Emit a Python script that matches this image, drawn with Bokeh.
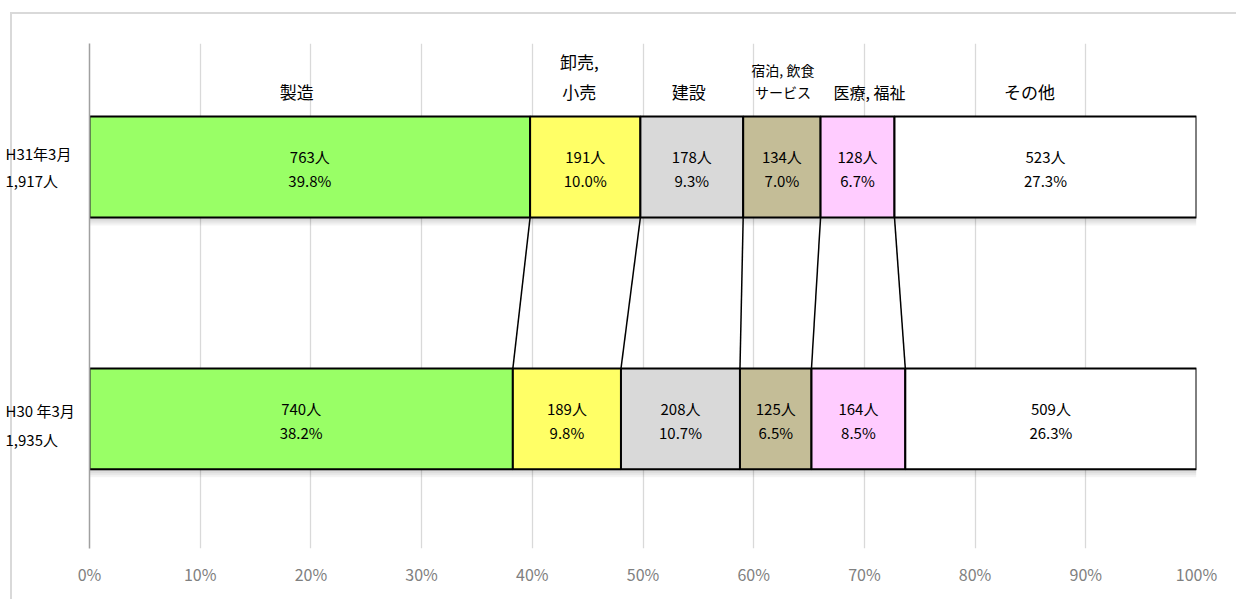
from bokeh.plotting import figure
from bokeh.layouts import row
from bokeh.models import Range1d, FixedTicker, NumeralTickFormatter, ColumnDataSource
from bokeh.core.properties import value
from bokeh.embed import file_html
from bokeh.resources import INLINE

# ---------------- data ----------------
industries = ["製造", "卸売,\n小売", "建設", "宿泊, 飲食\nサービス", "医療, 福祉", "その他"]
periods = ["H30 年3月", "H31年3月"]
period_totals = ["1,935人", "1,917人"]
counts_h30 = [740, 189, 208, 125, 164, 509]
counts_h31 = [763, 191, 178, 134, 128, 523]
tick_values = [0.0, 0.1, 0.2, 0.3, 0.4, 0.5, 0.6, 0.7, 0.8, 0.9, 1.0]

# ---------------- styles ----------------
colors = ["#99ff66", "#ffff66", "#d9d9d9", "#c4bd97", "#ffccff", "#ffffff"]
header_size = [17, 17, 17, 14, 16, 17]
header_dx = [-13, -6, -3, 1, 12, -16]
header_gap = [0, 30, 0, 22, 0, 0]
row_label_off = [(-8, 21), (-13, 14)]
row_pos = [0.5, 1.5]
bar_h = 0.4
FONT = "Noto Sans CJK JP"
BORDER = "#d9d9d9"

LEFT_W = 77
MB_L = 89 - LEFT_W
W, H = 1236 - LEFT_W, 599
MB_R, MB_T, MB_B = 40, 43, 51
y_lo, y_hi = -0.014, 1.99
ppu = (H - MB_T - MB_B) / (y_hi - y_lo)  # pixels per y unit

p = figure(width=W, height=H, output_backend="svg", toolbar_location=None,
           x_range=Range1d(0, 1), y_range=Range1d(y_lo, y_hi),
           min_border_left=MB_L, min_border_right=MB_R,
           min_border_top=MB_T, min_border_bottom=MB_B,
           background_fill_color="white", border_fill_color=None)
p.outline_line_color = None
p.styles = {
    "background-color": "white",
    "background-image": f"linear-gradient({BORDER}, {BORDER})",
    "background-size": "100% 2px",
    "background-position": "0px 12px",
    "background-repeat": "no-repeat",
}

# left panel holding the period labels
pl = figure(width=LEFT_W, height=H, output_backend="svg", toolbar_location=None,
            x_range=Range1d(0, LEFT_W), y_range=p.y_range,
            min_border_left=0, min_border_right=0,
            min_border_top=MB_T, min_border_bottom=MB_B,
            background_fill_color=None, border_fill_color=None)
pl.outline_line_color = None
pl.axis.visible = False
pl.grid.visible = False
pl.styles = {
    "background-color": "white",
    "background-image": f"linear-gradient({BORDER}, {BORDER}), linear-gradient({BORDER}, {BORDER})",
    "background-size": "2px 100%, 100% 2px",
    "background-position": "10px 12px, 10px 12px",
    "background-repeat": "no-repeat",
}

# grid
p.xgrid.ticker = FixedTicker(ticks=tick_values)
p.xgrid.grid_line_color = "#d9d9d9"
p.xgrid.grid_line_width = 1.3
p.ygrid.grid_line_color = None

# axes
p.xaxis.ticker = FixedTicker(ticks=tick_values)
p.xaxis.formatter = NumeralTickFormatter(format="0%")
p.xaxis.axis_line_color = None
p.xaxis.major_tick_line_color = None
p.xaxis.minor_tick_line_color = None
p.xaxis.major_label_standoff = 7
p.xaxis.major_label_text_font = FONT
p.xaxis.major_label_text_font_size = "16px"
p.xaxis.major_label_text_color = "#808080"

p.yaxis.ticker = FixedTicker(ticks=[])
p.yaxis.axis_line_color = "#a0a0a0"
p.yaxis.axis_line_width = 1.5
p.yaxis.major_tick_line_color = None
p.yaxis.minor_tick_line_color = None
p.yaxis.major_label_text_font_size = "0px"

rows = [counts_h30, counts_h31]
lefts_all, rights_all = [], []
for r, counts in enumerate(rows):
    total = sum(counts)
    shares = [c / total for c in counts]
    lefts, rights = [], []
    acc = 0.0
    for s in shares:
        lefts.append(acc)
        acc += s
        rights.append(acc)
    lefts_all.append(lefts)
    rights_all.append(rights)
    y = row_pos[r]
    # soft shadow under the bar
    for k in range(1, 5):
        p.quad(left=[0], right=[rights[-1]], top=[y - bar_h / 2],
               bottom=[y - bar_h / 2 - (2 * k) / ppu],
               fill_color="black", fill_alpha=0.045, line_color=None)
    src = ColumnDataSource(dict(
        left=lefts, right=rights, color=colors,
        center=[(a + b) / 2 for a, b in zip(lefts, rights)],
        y=[y] * len(counts),
        cnt=[f"{c}人" for c in counts],
        pct=[f"{s * 100:.1f}%" for s in shares],
    ))
    p.hbar(y="y", left="left", right="right", height=bar_h, fill_color="color",
           line_color="black", line_width=2, source=src)
    p.text(x="center", y="y", text="cnt", source=src, text_align="center",
           text_baseline="middle", y_offset=-10, text_font=value(FONT),
           text_font_size="15px", text_color="black")
    p.text(x="center", y="y", text="pct", source=src, text_align="center",
           text_baseline="middle", y_offset=14, text_font=value(FONT),
           text_font_size="15px", text_color="black")
    # period label (left panel)
    for txt, off in zip([periods[r], period_totals[r]], row_label_off[r]):
        pl.text(x=[5], y=[y], text=[txt], y_offset=off, text_align="left",
                text_baseline="middle", text_font=value(FONT),
                text_font_size="15px", text_color="black")

# connector lines between the two bars
p.segment(x0=rights_all[1][:-1], y0=[row_pos[1] - bar_h / 2] * 5,
          x1=rights_all[0][:-1], y1=[row_pos[0] + bar_h / 2] * 5,
          line_color="black", line_width=1.5)

# category headers above the H31 bar
top31 = row_pos[1] + bar_h / 2
for i, name in enumerate(industries):
    lines = name.split("\n")
    cx = (lefts_all[1][i] + rights_all[1][i]) / 2
    n = len(lines)
    for j, line in enumerate(lines):
        off = -25 - (n - 1 - j) * header_gap[i]
        p.text(x=[cx], y=[top31], text=[line], x_offset=header_dx[i], y_offset=off,
               text_align="center", text_baseline="middle", text_font=value(FONT),
               text_font_size=f"{header_size[i]}px", text_color="black")

layout = row(pl, p, spacing=0)
open("out.html", "w").write(file_html(layout, INLINE))
